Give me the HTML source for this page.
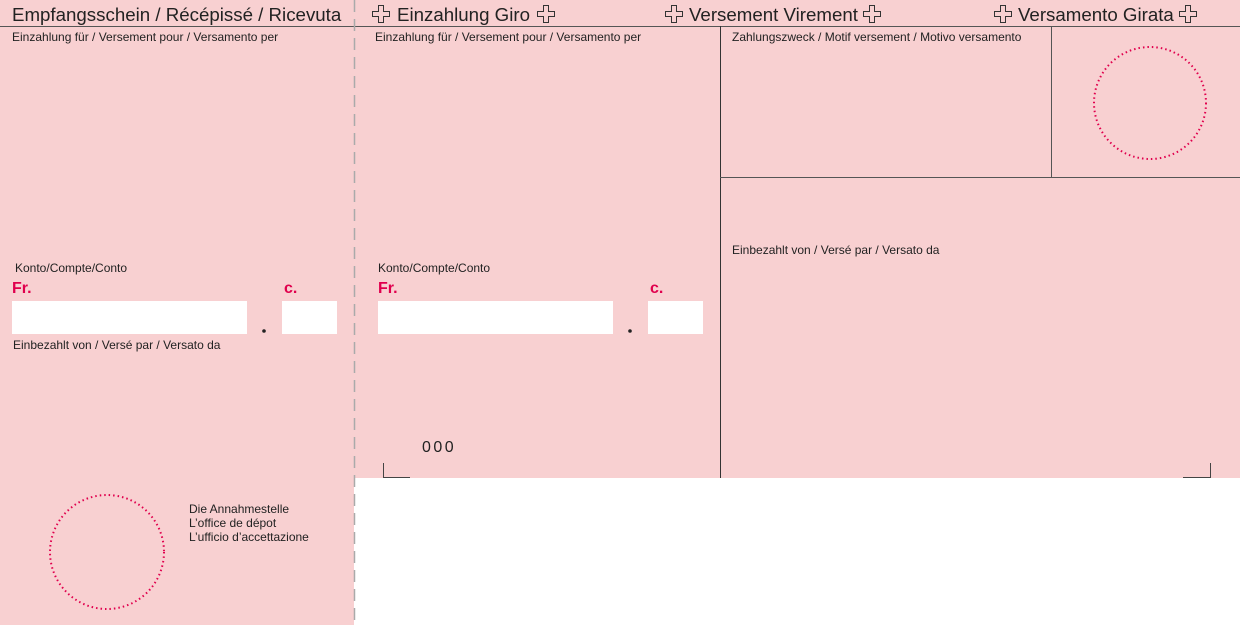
<!DOCTYPE html>
<html><head><meta charset="utf-8"><style>
body{margin:0;width:1240px;height:625px;position:relative;overflow:hidden;background:#fff;font-family:"Liberation Sans",sans-serif;color:#222}
div,span{position:absolute}
.s{font-size:12px;white-space:nowrap}
.h{font-size:18.7px;white-space:nowrap;top:4px}
.r{color:#e0004d;font-weight:bold;font-size:16px}
.w{background:#fff}
</style></head><body>
<div style="left:0;top:0;width:1240px;height:478px;background:#f8d0d1"></div>
<div style="left:0;top:478px;width:354px;height:147px;background:#f8d0d1"></div>
<svg width="1240" height="625" style="position:absolute;left:0;top:0">
<line x1="0" y1="26.5" x2="1240" y2="26.5" stroke="#555" stroke-width="1"/>
<line x1="354.5" y1="0" x2="354.5" y2="625" stroke="#aaa" stroke-width="1.5" stroke-dasharray="12,7"/>
<line x1="720.5" y1="26" x2="720.5" y2="478" stroke="#333"/>
<line x1="1051.5" y1="26" x2="1051.5" y2="177" stroke="#555"/>
<line x1="720" y1="177.5" x2="1240" y2="177.5" stroke="#555"/>
<path d="M383.5 463 V477.5 H410" fill="none" stroke="#444"/>
<path d="M1183 477.5 H1210.5 V463" fill="none" stroke="#444"/>
<circle cx="1150" cy="103" r="56" fill="none" stroke="#e0004d" stroke-width="2" stroke-dasharray="1.5,3"/>
<circle cx="107" cy="552" r="57" fill="none" stroke="#e0004d" stroke-width="2" stroke-dasharray="1.5,3"/>
<g fill="none" stroke="#333" stroke-width="1">
<path d="M6.5 0.5h5v6h6v5h-6v6h-5v-6h-6v-5h6z" transform="translate(372,5)"/>
<path d="M6.5 0.5h5v6h6v5h-6v6h-5v-6h-6v-5h6z" transform="translate(537,5)"/>
<path d="M6.5 0.5h5v6h6v5h-6v6h-5v-6h-6v-5h6z" transform="translate(665,5)"/>
<path d="M6.5 0.5h5v6h6v5h-6v6h-5v-6h-6v-5h6z" transform="translate(863,5)"/>
<path d="M6.5 0.5h5v6h6v5h-6v6h-5v-6h-6v-5h6z" transform="translate(994,5)"/>
<path d="M6.5 0.5h5v6h6v5h-6v6h-5v-6h-6v-5h6z" transform="translate(1179,5)"/>
</g>
<circle cx="264" cy="331" r="1.8" fill="#222"/>
<circle cx="630" cy="331" r="1.8" fill="#222"/>
</svg>
<span class="h" style="left:12px">Empfangsschein / Récépissé / Ricevuta</span>
<span class="h" style="left:397px">Einzahlung Giro</span>
<span class="h" style="left:689px">Versement Virement</span>
<span class="h" style="left:1018px">Versamento Girata</span>
<span class="s" style="left:12px;top:30px">Einzahlung für / Versement pour / Versamento per</span>
<span class="s" style="left:375px;top:30px">Einzahlung für / Versement pour / Versamento per</span>
<span class="s" style="left:732px;top:30px">Zahlungszweck / Motif versement / Motivo versamento</span>
<span class="s" style="left:732px;top:243px">Einbezahlt von / Versé par / Versato da</span>
<span class="s" style="left:15px;top:261px">Konto/Compte/Conto</span>
<span class="s" style="left:378px;top:261px">Konto/Compte/Conto</span>
<span class="r" style="left:12px;top:280px">Fr.</span>
<span class="r" style="left:284px;top:280px">c.</span>
<span class="r" style="left:378px;top:280px">Fr.</span>
<span class="r" style="left:650px;top:280px">c.</span>
<div class="w" style="left:12px;top:301px;width:235px;height:33px"></div>
<div class="w" style="left:282px;top:301px;width:55px;height:33px"></div>
<div class="w" style="left:378px;top:301px;width:235px;height:33px"></div>
<div class="w" style="left:648px;top:301px;width:55px;height:33px"></div>
<span class="s" style="left:13px;top:338px">Einbezahlt von / Versé par / Versato da</span>
<span style="left:422px;top:439px;font-size:16px;letter-spacing:2.5px">000</span>
<span class="s" style="left:189px;top:502px;line-height:14px">Die Annahmestelle<br>L’office de dépot<br>L’ufficio d’accettazione</span>
</body></html>
